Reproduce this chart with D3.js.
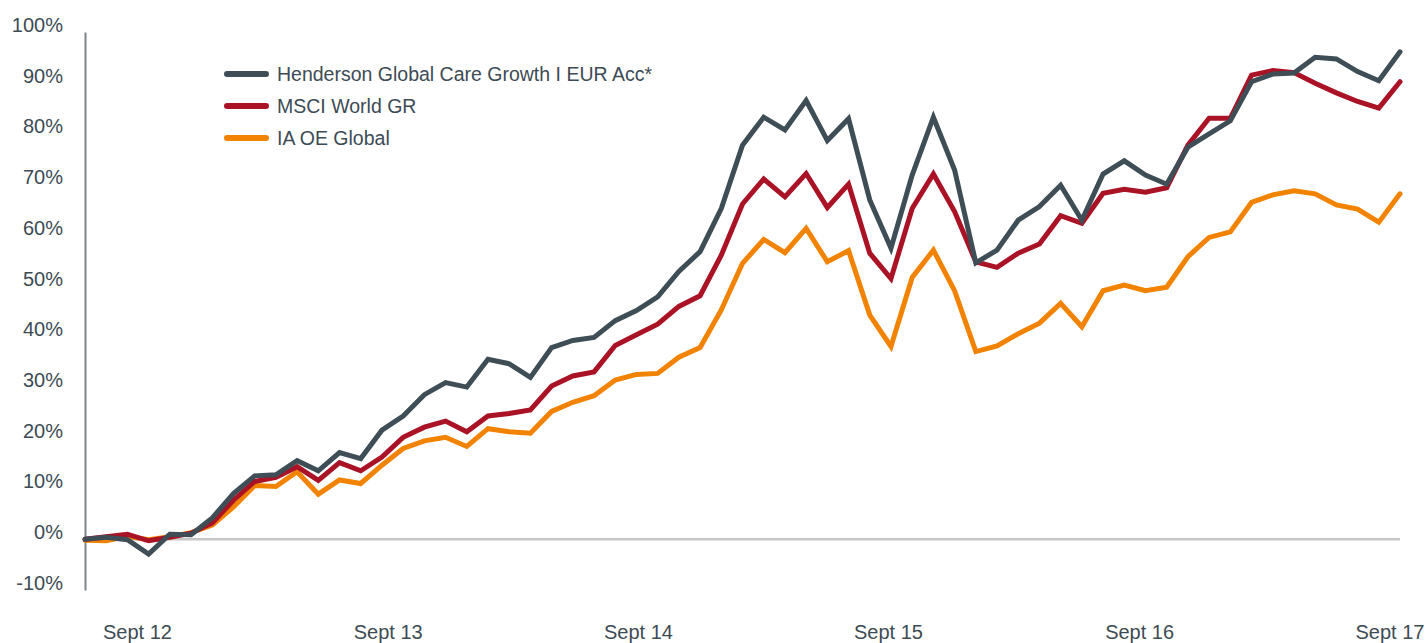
<!DOCTYPE html>
<html>
<head>
<meta charset="utf-8">
<script src="https://cdn.jsdelivr.net/npm/d3@7/dist/d3.min.js"></script>
<style>
  html, body { margin: 0; padding: 0; background: #fff; }
  svg { display: block; }
  text { font-family: "Liberation Sans", Arial, Helvetica, sans-serif; fill: #3d4b54; }
</style>
</head>
<body>
<svg id="chart" width="1426" height="643"></svg>
<script>
// cumulative performance (%), monthly points
var henderson = [0, 0.4, -0.1, -2.9, 1.0, 0.9, 4.2, 9.0, 12.5, 12.7, 15.5, 13.5, 17.1, 15.9, 21.5, 24.3, 28.5, 30.9, 30.0, 35.5,
  34.6, 31.9, 37.8, 39.2, 39.8, 43.1, 45.1, 47.8, 52.8, 56.7, 65.2, 77.7, 83.2, 80.7, 86.5, 78.6, 82.9, 66.9, 57.4,
  71.8, 83.2, 72.8, 54.5, 57.0, 62.9, 65.6, 69.8, 62.9, 72.0, 74.6, 71.8, 70.0, 77.3, 79.9, 82.5, 90.2, 91.7, 91.9,
  95.0, 94.7, 92.2, 90.4, 96.1];
var msci = [0, 0.5, 1.0, -0.3, 0.4, 1.2, 3.2, 7.7, 11.4, 12.2, 14.3, 11.6, 15.1, 13.5, 16.2, 20.1, 22.1, 23.3, 21.2, 24.3,
  24.8, 25.5, 30.2, 32.2, 33.0, 38.2, 40.3, 42.4, 45.9, 48.0, 56.0, 66.1, 71.0, 67.5, 72.1, 65.4, 70.0, 56.4, 51.4,
  65.2, 72.0, 64.6, 54.7, 53.6, 56.4, 58.2, 63.8, 62.3, 68.2, 69.0, 68.4, 69.3, 77.7, 83.0, 83.0, 91.5, 92.4, 92.0,
  89.9, 88.0, 86.3, 85.0, 90.2];
var iaGlobal = [-0.2, -0.3, 0.6, -0.1, 0.5, 1.3, 2.8, 6.4, 10.6, 10.4, 13.3, 8.9, 11.7, 11.0, 14.6, 17.9, 19.4, 20.1, 18.3, 21.8,
  21.2, 20.9, 25.2, 27.0, 28.3, 31.4, 32.5, 32.7, 35.9, 37.8, 45.2, 54.4, 59.1, 56.5, 61.3, 54.7, 56.9, 44.2, 38.0,
  51.6, 57.0, 49.0, 37.0, 38.1, 40.5, 42.6, 46.5, 41.9, 49.0, 50.1, 49.0, 49.7, 55.7, 59.5, 60.6, 66.4, 67.9, 68.7,
  68.1, 65.9, 65.1, 62.5, 68.1];

var seriesNames = ['Henderson Global Care Growth I EUR Acc*', 'MSCI World GR', 'IA OE Global'];
var seriesColors = ['#3e4d56', '#aa1226', '#f28300'];

var xTickLabels = ['Sept 12', 'Sept 13', 'Sept 14', 'Sept 15', 'Sept 16', 'Sept 17'];
var xTickPos = [2.45, 14.27, 26.07, 37.86, 49.7, 61.5];
var yTicks = [-10, 0, 10, 20, 30, 40, 50, 60, 70, 80, 90, 100];

var svg = d3.select('#chart');
var n = henderson.length;

var x = d3.scaleLinear().domain([0, n - 1]).range([85, 1400]);
var y = d3.scaleLinear().domain([-10, 100]).range([590, 32]);

// zero line
svg.append('line')
  .attr('x1', x(0)).attr('x2', x(n - 1))
  .attr('y1', y(0)).attr('y2', y(0))
  .attr('stroke', '#c6c6c6').attr('stroke-width', 2.5);

// y axis
var yAxis = svg.append('g')
  .attr('transform', 'translate(' + x(0) + ',0)')
  .call(d3.axisLeft(y).tickValues(yTicks).tickSize(0).tickPadding(22)
    .tickFormat(function (d) { return d + '%'; }));
yAxis.select('.domain').attr('stroke', '#7d868c').attr('stroke-width', 2);
yAxis.selectAll('text')
  .attr('dy', '-0.03em')
  .style('font-size', '20px').style('fill', '#3d4b54')
  .style('font-family', '"Liberation Sans", Arial, sans-serif');

// x axis labels
var xAxis = svg.append('g')
  .attr('transform', 'translate(0,' + 617 + ')')
  .call(d3.axisBottom(x).tickValues(xTickPos).tickSize(0).tickPadding(8)
    .tickFormat(function (d, i) { return xTickLabels[i]; }));
xAxis.select('.domain').remove();
xAxis.selectAll('text')
  .style('font-size', '20px').style('fill', '#3d4b54')
  .style('font-family', '"Liberation Sans", Arial, sans-serif');

// lines, orange at the bottom, fund on top
var line = d3.line()
  .x(function (d, i) { return x(i); })
  .y(function (d) { return y(d); });

var data = [henderson, msci, iaGlobal];
[2, 1, 0].forEach(function (k) {
  svg.append('path')
    .datum(data[k])
    .attr('d', line)
    .attr('fill', 'none')
    .attr('stroke', seriesColors[k])
    .attr('stroke-width', 5)
    .attr('stroke-linecap', 'round');
});

// legend
var legend = svg.append('g').attr('transform', 'translate(227,74)');
seriesNames.forEach(function (name, i) {
  var g = legend.append('g').attr('transform', 'translate(0,' + (i * 32) + ')');
  g.append('line')
    .attr('x1', 0).attr('x2', 39).attr('y1', 0).attr('y2', 0)
    .attr('stroke', seriesColors[i]).attr('stroke-width', 6)
    .attr('stroke-linecap', 'round');
  g.append('text')
    .attr('x', 50).attr('y', 0).attr('dy', '0.35em')
    .style('font-size', '19.5px')
    .text(name);
});
</script>
</body>
</html>
